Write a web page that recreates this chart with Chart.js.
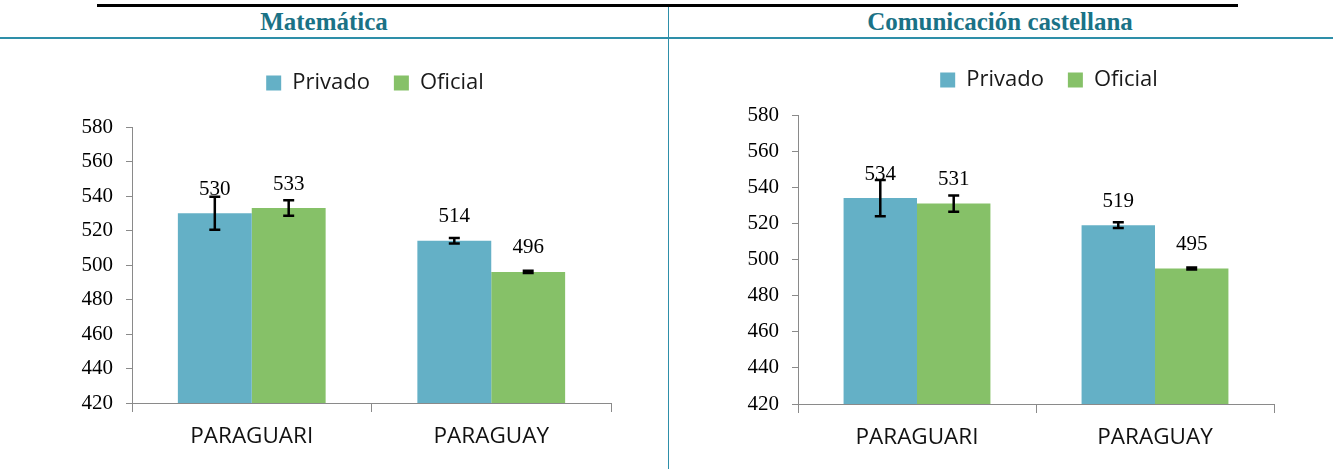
<!DOCTYPE html>
<html>
<head>
<meta charset="utf-8">
<script src="https://cdn.jsdelivr.net/npm/chart.js@4.4.0/dist/chart.umd.min.js"></script>
<style>
html,body{margin:0;padding:0;background:#fff;}
body{width:1333px;height:469px;position:relative;overflow:hidden;}
.topline{position:absolute;left:97px;top:4px;width:1141px;height:3px;background:#000;}
.hline{position:absolute;left:0;top:37px;width:1333px;height:2px;background:#2e8fa9;}
.vline{position:absolute;left:668px;top:7px;width:1px;height:462px;background:#2e8fa9;}
.head{position:absolute;top:8px;height:28px;line-height:28px;text-align:center;font-family:"Liberation Serif",serif;font-weight:bold;font-size:26px;color:#1a7286;white-space:nowrap;transform:scaleX(0.96);}
#h1{left:0;width:648px;}
#h2{left:669px;width:662px;}
.box{position:absolute;top:40px;height:429px;}
#b1{left:0;width:668px;}
#b2{left:669px;width:664px;}
canvas{display:block;}
</style>
</head>
<body>
<div class="topline"></div>
<div class="head" id="h1">Matemática</div>
<div class="head" id="h2">Comunicación castellana</div>
<div class="hline"></div>
<div class="vline"></div>
<div class="box" id="b1"><canvas id="c1" width="668" height="429"></canvas></div>
<div class="box" id="b2"><canvas id="c2" width="664" height="429"></canvas></div>
<script>
// ---- data ----
const categories = ['PARAGUARI', 'PARAGUAY'];
const seriesNames = ['Privado', 'Oficial'];
const mathPrivado = [530, 514];
const mathOficial = [533, 496];
const mathPrivadoErr = [9.5, 1.6];
const mathOficialErr = [4.5, 0.6];
const comPrivado = [534, 519];
const comOficial = [531, 495];
const comPrivadoErr = [10, 1.6];
const comOficialErr = [4.5, 0.6];
const yMin = 420;
const yMax = 580;
const yStep = 20;

const colorPrivado = '#64b0c6';
const colorOficial = '#86c168';
const axisColor = '#8a8a8a';

const errorBarPlugin = {
  id: 'errorBars',
  afterDatasetsDraw(chart) {
    const ctx = chart.ctx;
    const ys = chart.scales.y;
    chart.data.datasets.forEach((ds, i) => {
      chart.getDatasetMeta(i).data.forEach((bar, j) => {
        const v = ds.data[j], e = ds.errors[j];
        const yt = ys.getPixelForValue(v + e), yb = ys.getPixelForValue(v - e);
        ctx.save();
        ctx.strokeStyle = '#000';
        ctx.lineWidth = 2.5;
        ctx.beginPath();
        ctx.moveTo(bar.x, yt); ctx.lineTo(bar.x, yb);
        ctx.moveTo(bar.x - 5.5, yt); ctx.lineTo(bar.x + 5.5, yt);
        ctx.moveTo(bar.x - 5.5, yb); ctx.lineTo(bar.x + 5.5, yb);
        ctx.stroke();
        ctx.restore();
      });
    });
  }
};

const valueLabelPlugin = {
  id: 'valueLabels',
  afterDatasetsDraw(chart) {
    const ctx = chart.ctx;
    ctx.save();
    ctx.font = '21px "Liberation Serif"';
    ctx.fillStyle = '#000';
    ctx.textAlign = 'center';
    ctx.textBaseline = 'middle';
    chart.data.datasets.forEach((ds, i) => {
      chart.getDatasetMeta(i).data.forEach((bar, j) => {
        ctx.fillText(String(Math.round(ds.data[j])), bar.x, bar.y - 24);
      });
    });
    ctx.restore();
  }
};

function legendShift(dx) {
  return {
    id: 'legendShift',
    afterLayout(chart) {
      const l = chart.legend;
      if (l) { l.left += dx; l.right += dx; }
    }
  };
}

function makeChart(id, privado, oficial, errP, errO, g) {
  return new Chart(document.getElementById(id), {
    type: 'bar',
    data: {
      labels: categories,
      datasets: [
        { label: seriesNames[0], data: privado, errors: errP, backgroundColor: colorPrivado, borderWidth: 0,
          categoryPercentage: 0.617, barPercentage: 1.0 },
        { label: seriesNames[1], data: oficial, errors: errO, backgroundColor: colorOficial, borderWidth: 0,
          categoryPercentage: 0.617, barPercentage: 1.0 }
      ]
    },
    options: {
      responsive: false,
      animation: false,
      devicePixelRatio: 1,
      layout: { padding: { left: 0, right: g.padR, top: g.padT, bottom: 0 } },
      plugins: {
        legend: {
          display: true,
          position: 'top',
          labels: {
            boxWidth: 15, boxHeight: 15, padding: 24,
            color: '#1a1a1a',
            font: { family: '"Open Sans"', size: 22 }
          }
        },
        tooltip: { enabled: false }
      },
      scales: {
        x: {
          type: 'category',
          position: 'bottom',
          grid: { display: true, drawOnChartArea: false, drawTicks: true, tickLength: 9, color: axisColor, offset: true },
          border: { display: true, color: axisColor, width: 1 },
          ticks: { color: '#111', padding: 11, font: { family: '"Open Sans"', size: 22.5 } },
          afterFit(s) { s.height = g.xH; }
        },
        xTop: {
          type: 'category',
          position: 'top',
          display: true,
          grid: { display: false, drawTicks: false },
          border: { display: false },
          ticks: { display: false },
          afterFit(s) { s.height = g.topGap; }
        },
        y: {
          min: yMin, max: yMax,
          grid: { display: true, drawOnChartArea: false, drawTicks: true, tickLength: 6, color: axisColor },
          border: { display: true, color: axisColor, width: 1 },
          ticks: { stepSize: yStep, color: '#000', padding: 13,
                   font: { family: '"Liberation Serif"', size: 21 } },
          afterFit(s) { s.width = g.yW; }
        }
      }
    },
    plugins: [errorBarPlugin, valueLabelPlugin, legendShift(g.dx)]
  });
}

makeChart('c1', mathPrivado, mathOficial, mathPrivadoErr, mathOficialErr,
  { padR: 57, padT: 8, topGap: 23, xH: 66, yW: 132, dx: 69.5 });
makeChart('c2', comPrivado, comOficial, comPrivadoErr, comOficialErr,
  { padR: 59, padT: 5, topGap: 14, xH: 65, yW: 129, dx: 77.5 });
</script>
</body>
</html>
